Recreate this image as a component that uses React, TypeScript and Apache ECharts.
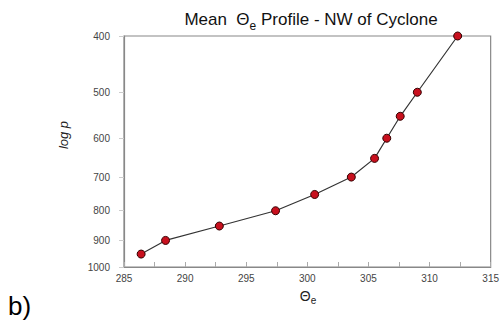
import React, { useEffect, useRef } from "react";
import * as echarts from "echarts";

const thetaE = [286.4, 288.4, 292.8, 297.4, 300.6, 303.6, 305.5, 306.5, 307.6, 309.0, 312.3];
const pressure = [950, 900, 850, 800, 750, 700, 650, 600, 550, 500, 400];
const yTicks = [400, 500, 600, 700, 800, 900, 1000];
const xTicks = [285, 290, 295, 300, 305, 310, 315];

export default function App() {
  const ref = useRef<HTMLDivElement>(null);
  useEffect(() => {
    const chart = echarts.init(ref.current!, null, { renderer: "svg" });
    const font = "'Liberation Sans', Arial, sans-serif";
    chart.setOption({
      animation: false,
      backgroundColor: "#fff",
      title: {
        text: "{a|Mean  Θ}{s|e}{a| Profile - NW of Cyclone}",
        left: 306,
        textAlign: "center",
        top: 5,
        textStyle: {
          fontWeight: "normal",
          rich: {
            a: { fontSize: 17, fontWeight: "normal", fontFamily: font, color: "#111", lineHeight: 22, verticalAlign: "top", padding: [1, 0, 0, 0] },
            s: { fontSize: 12, fontWeight: "normal", fontFamily: font, color: "#111", lineHeight: 22, verticalAlign: "top", padding: [10, 0, 0, 0] },
          },
        },
      },
      grid: { left: 124, top: 36, right: 10, bottom: 61, show: true, borderColor: "#888", borderWidth: 1.2, backgroundColor: "transparent" },
      xAxis: {
        type: "value",
        min: 285,
        max: 315,
        interval: 5,
        axisLine: { show: true, lineStyle: { color: "#888", width: 1.2 } },
        axisTick: { show: true, inside: true, length: 5, lineStyle: { color: "#aaa" } },
        minorTick: { show: true, splitNumber: 2, length: 5, lineStyle: { color: "#aaa" } },
        splitLine: { show: false },
        axisLabel: { color: "#444", fontSize: 10, fontFamily: font, margin: 6, formatter: (v: number) => (xTicks.includes(v) ? String(v) : "") },
      },
      yAxis: {
        type: "log",
        min: 400,
        max: 1000,
        inverse: true,
        axisLine: { show: true, lineStyle: { color: "#888", width: 1.2 } },
        axisTick: { show: true, length: 5, customValues: yTicks, lineStyle: { color: "#ccc" } },
        splitLine: { show: false },
        minorTick: { show: false },
        axisLabel: { color: "#444", fontSize: 10, fontFamily: font, margin: 14, customValues: yTicks, formatter: (v: number) => String(Math.round(v)) },
      },
      graphic: [
        { type: "text", x: 63, y: 135, rotation: Math.PI / 2, style: { text: "log p", font: `italic 13px ${font}`, fill: "#222", align: "center", verticalAlign: "middle" } },
        {
          type: "text",
          x: 308,
          y: 297,
          style: {
            text: "{a|Θ}{s|e}",
            align: "center",
            verticalAlign: "middle",
            rich: {
              a: { fontSize: 14, fontFamily: font, fill: "#222", lineHeight: 18, verticalAlign: "top", padding: [1, 0, 0, 0] },
              s: { fontSize: 10, fontFamily: font, fill: "#222", lineHeight: 18, verticalAlign: "top", padding: [7, 0, 0, 0] },
            },
          },
        },
        { type: "text", x: 8, y: 306, style: { text: "b)", font: `26px ${font}`, fill: "#000", verticalAlign: "middle" } },
      ],
      series: [
        {
          type: "line",
          data: thetaE.map((t, i) => [t, pressure[i]]),
          symbol: "circle",
          symbolSize: 8,
          lineStyle: { color: "#333", width: 1.2 },
          itemStyle: { color: "#c8101e", borderColor: "#300", borderWidth: 1 },
        },
      ],
    });
    return () => chart.dispose();
  }, []);
  return <div ref={ref} style={{ width: 502, height: 328, position: "absolute", left: 0, top: 0 }} />;
}
